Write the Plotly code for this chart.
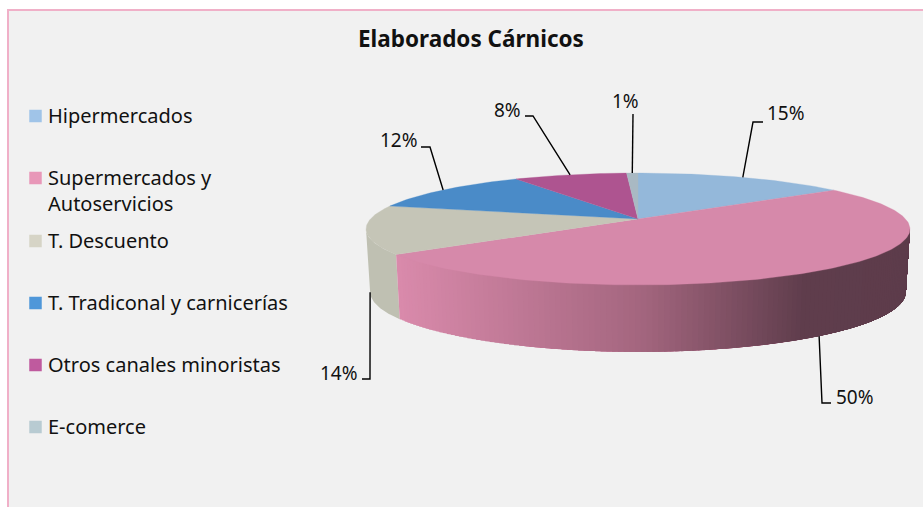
import math
import plotly.graph_objects as go

# ---- data ----
CATEGORIES = ["Hipermercados", "Supermercados y<br>Autoservicios", "T. Descuento",
              "T. Tradiconal y carnicerías", "Otros canales minoristas", "E-comerce"]
VALUES = [15, 50, 14, 12.2, 8, 0.8]
TOP_COLORS = ["#94b8da", "#d689aa", "#c5c5b7", "#4a8bc8", "#ae5490", "#a9b9c3"]
LEGEND_COLORS = ["#a0c4e8", "#e897b8", "#d6d4c6", "#4f97d9", "#bf5a9e", "#b8cbd2"]
TITLE = "Elaborados Cárnicos"

# ---- layout constants (pixels) ----
W, H = 923, 507
CX, APEX_Y, RX, RY, K = 638, 219, 267.6, 54.2, 0.1786
BOT_Y, BOT_RX, BOT_RY = 281, 263.6, 58.3
FONT = "Noto Sans"
LEGEND_Y = [116, 178, 241, 303, 365, 427]
LEADERS = [
    dict(bend=(753, 122), end=(763, 122), text=(786, 113), bottom=False),
    dict(bend=(822, 403), end=(831, 403), text=(855, 397), bottom=True),
    dict(bend=(370, 379), end=(362, 379), text=(339, 373), bottom=True),
    dict(bend=(430, 147), end=(421, 147), text=(399, 140), bottom=False),
    dict(bend=(533, 116), end=(525, 116), text=(507, 110), bottom=False),
    dict(bend=(633, 114), end=(633, 114), text=(625, 101), bottom=False),
]


def top_pt(theta):
    s, c = math.sin(theta), math.cos(theta)
    return CX + RX * c / (1 + K * s), APEX_Y - RY * s / (1 + K * s)


def bot_pt(theta):
    s, c = math.sin(theta), math.cos(theta)
    return CX + BOT_RX * c / (1 + K * s), BOT_Y - BOT_RY * s / (1 + K * s)


def angle_at(c):
    return math.pi / 2 - 2 * math.pi * c / sum(VALUES)


def lerp_color(x):
    stops = [(398, (217, 138, 171)), (640, (164, 102, 127)), (805, (95, 61, 76)), (923, (93, 60, 75))]
    for (x0, c0), (x1, c1) in zip(stops, stops[1:]):
        if x <= x1:
            t = max(0, (x - x0) / (x1 - x0))
            return "rgb(%d,%d,%d)" % tuple(round(a + (b - a) * t) for a, b in zip(c0, c1))
    return "rgb(93,60,75)"


fig = go.Figure()


def poly(xs, ys, color, lw=0.0):
    fig.add_trace(go.Scatter(x=xs, y=ys, mode="lines", fill="toself", fillcolor=color,
                             line=dict(color=color, width=lw), hoverinfo="skip", showlegend=False))


cum = [0]
for v in VALUES:
    cum.append(cum[-1] + v)

tangent = math.asin(K)
pink_end = angle_at(cum[2])

# side wall: T. Descuento, from the Supermercados wall round to the left silhouette
n = 40
a0, a1 = pink_end, -math.pi + tangent
th = [a0 + (a1 - a0) * i / n for i in range(n + 1)]
tp = [top_pt(t) for t in th]
bp = [bot_pt(t) for t in th]
poly([p[0] for p in tp] + [p[0] for p in bp[::-1]], [p[1] for p in tp] + [p[1] for p in bp[::-1]], "#bfc0b2")

# side wall: Supermercados, gradient strips painted right to left, each overlapping the next
vis_start = -tangent
n = 130
step = (pink_end - vis_start) / n
for i in range(n - 1, -1, -1):
    t0 = vis_start + step * i
    t1 = t0 + step
    t_far = max(vis_start, t0 - step * 2)
    m = 4
    ts = [t1 + (t_far - t1) * j / m for j in range(m + 1)]
    pts = [top_pt(t) for t in ts] + [bot_pt(t) for t in ts[::-1]]
    poly([p[0] for p in pts], [p[1] for p in pts], lerp_color(top_pt((t0 + t1) / 2)[0]))

# top faces
for i, col in enumerate(TOP_COLORS):
    a0, a1 = angle_at(cum[i]), angle_at(cum[i + 1])
    n = max(4, int(abs(a1 - a0) * 60))
    pts = [top_pt(a0 + (a1 - a0) * j / n) for j in range(n + 1)]
    poly([CX] + [p[0] for p in pts] + [CX], [APEX_Y] + [p[1] for p in pts] + [APEX_Y], col, 0.3)

# leader lines and labels
annotations = []
for i, (v, ld) in enumerate(zip(VALUES, LEADERS)):
    mid = angle_at((cum[i] + cum[i + 1]) / 2)
    start = bot_pt(mid) if ld["bottom"] else top_pt(mid)
    fig.add_trace(go.Scatter(x=[start[0], ld["bend"][0], ld["end"][0]],
                             y=[start[1], ld["bend"][1], ld["end"][1]],
                             mode="lines", line=dict(color="#000000", width=1.4),
                             hoverinfo="skip", showlegend=False))
    annotations.append(dict(x=ld["text"][0], y=ld["text"][1], text=f"{round(v)}%", showarrow=False,
                            xanchor="center", yanchor="middle",
                            font=dict(family=FONT, size=19, color="#111111")))

# legend
for name, col, y in zip(CATEGORIES, LEGEND_COLORS, LEGEND_Y):
    fig.add_trace(go.Scatter(x=[35.5], y=[y], mode="markers",
                             marker=dict(symbol="square", size=12.5, color=col),
                             hoverinfo="skip", showlegend=False))
    annotations.append(dict(x=46, y=y - 16, text=name, showarrow=False, xanchor="left", yanchor="top",
                            align="left", font=dict(family=FONT, size=20, color="#111111")))

annotations.append(dict(x=471, y=38, text=f"<b>{TITLE}</b>", showarrow=False, xanchor="center",
                        yanchor="middle", font=dict(family=FONT, size=22.5, color="#111111")))

fig.update_layout(
    width=W, height=H, margin=dict(l=0, r=0, t=0, b=0), autosize=False,
    paper_bgcolor="white", plot_bgcolor="white", showlegend=False,
    xaxis=dict(range=[0, W], visible=False, fixedrange=True),
    yaxis=dict(range=[H, 0], visible=False, fixedrange=True),
    annotations=annotations,
    shapes=[dict(type="rect", x0=8, y0=10, x1=W + 5, y1=H + 5, layer="below",
                 fillcolor="#f1f1f1", line=dict(color="#f0b0c8", width=2))],
)
fig.write_html("out.html", config=dict(displayModeBar=False),
               post_script="document.body.style.margin='0';document.body.style.overflow='hidden';")
